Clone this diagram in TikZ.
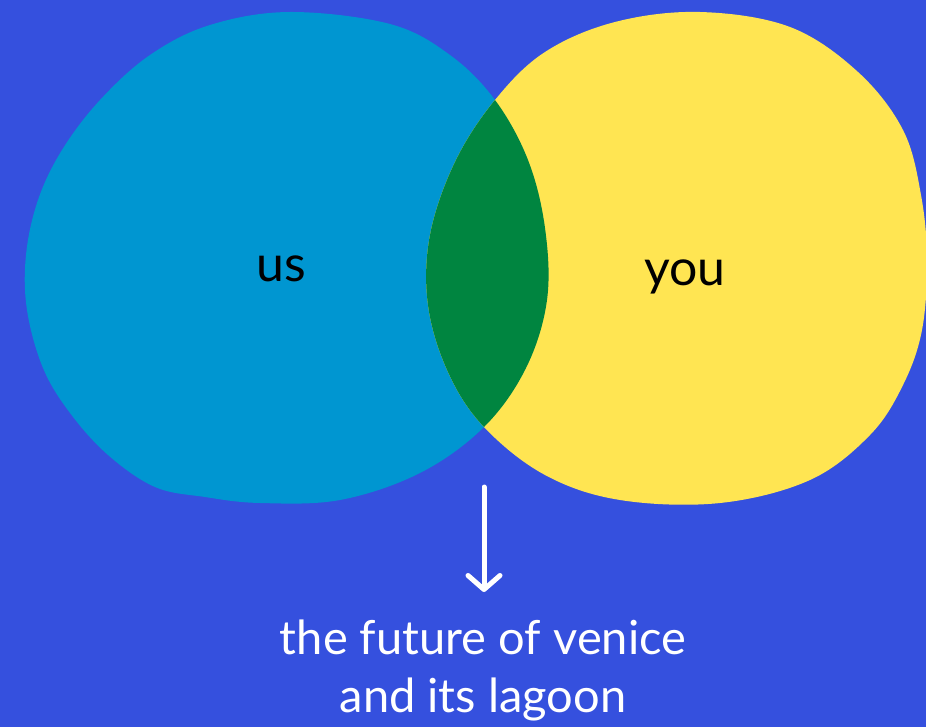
\documentclass[tikz,border=0pt]{standalone}
\usepackage{fontspec}
\setmainfont{Lato}
\usepackage{tikz}
\usetikzlibrary{arrows.meta,positioning}
\definecolor{lagoonbg}{HTML}{3550DE}
\definecolor{usblue}{HTML}{0096D1}
\definecolor{youyellow}{HTML}{FFE552}
\definecolor{sharedgreen}{HTML}{008540}
\tikzset{>={Straight Barb[length=14pt,width=32pt,line cap=round,round]}}
% hand drawn outlines of the two sets
\newcommand{\usoutline}{plot[smooth cycle, tension=0.6] coordinates {(290,12) (390,24) (450,55) (495,100) (528,160) (545,228) (547,300) (526,368) (484,427) (420,473) (340,500) (260,503) (205,497) (155,487) (108,455) (70,413) (43,368) (27,310) (26,255) (38,200) (62,150) (100,100) (150,55) (210,25)}}
\newcommand{\yououtline}{plot[smooth cycle, tension=0.6] coordinates {(700,12) (790,27) (858,72) (903,130) (921,195) (927,260) (922,330) (903,385) (870,435) (810,480) (720,503) (620,500) (545,475) (484,427) (448,372) (428,305) (430,235) (455,162) (495,100) (545,52) (615,22)}}

\begin{document}
\begin{tikzpicture}[x=1pt, y=-1pt, every node/.style={inner sep=0pt}]
	% background
	\fill[lagoonbg] (0,0) rectangle (926,727);
	\useasboundingbox (0,0) rectangle (926,727);
	% the two sets
	\fill[usblue] \usoutline;
	\fill[youyellow] \yououtline;
	% overlap
	\begin{scope}
		\clip \usoutline;
		\fill[sharedgreen] \yououtline;
	\end{scope}
	% labels
	\node[anchor=base, font=\fontsize{50}{60}\selectfont] (us) at (281,282) {us};
	\node[anchor=base, font=\fontsize{50}{60}\selectfont] (you) at (685,286) {you};
	% arrow down to the shared future
	\coordinate (arrowtop) at (484,487);
	\coordinate (arrowtip) at (484,592);
	\draw[->, white, line width=5pt, line cap=round] (arrowtop) -- (arrowtip);
	\node[anchor=north, align=center, white, font=\fontsize{47}{58}\selectfont] (future) at (483,620) {the future of venice\\and its lagoon};
\end{tikzpicture}
\end{document}
